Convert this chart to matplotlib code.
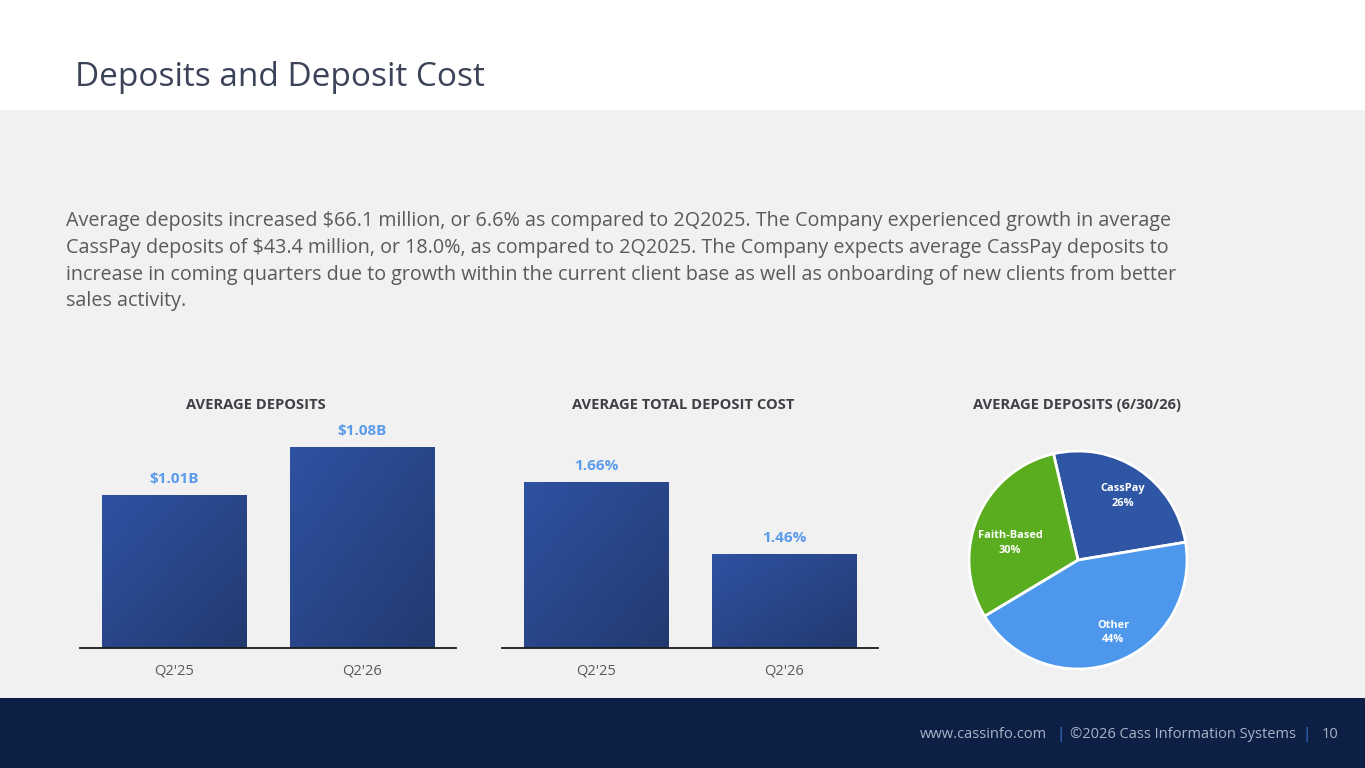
import matplotlib
matplotlib.use("Agg")
import matplotlib.pyplot as plt
import numpy as np
from matplotlib.patches import Rectangle
from matplotlib.colors import LinearSegmentedColormap

# ---------------- data ----------------
title = "Deposits and Deposit Cost"
paragraph_lines = [
    "Average deposits increased $66.1 million, or 6.6% as compared to 2Q2025. The Company experienced growth in average",
    "CassPay deposits of $43.4 million, or 18.0%, as compared to 2Q2025. The Company expects average CassPay deposits to",
    "increase in coming quarters due to growth within the current client base as well as onboarding of new clients from better",
    "sales activity.",
]
quarters = ["Q2'25", "Q2'26"]
avg_deposits = [1.01, 1.08]          # $B
avg_deposit_labels = ["$1.01B", "$1.08B"]
deposit_cost = [1.66, 1.46]          # %
deposit_cost_labels = ["1.66%", "1.46%"]
pie_names = ["CassPay", "Other", "Faith-Based"]
pie_shares = [26, 44, 30]
pie_colors = ["#2f56a5", "#4d97ec", "#5aad1f"]
chart_titles = ["AVERAGE DEPOSITS", "AVERAGE TOTAL DEPOSIT COST", "AVERAGE DEPOSITS (6/30/26)"]

W, H = 1365, 768
FONT = "Open Sans"

def fx(x):
    return x / W

def fy(y):
    return 1 - y / H

fig = plt.figure(figsize=(W / 100, H / 100), dpi=100)
fig.patch.set_facecolor("white")

# background bands
fig.patches.append(Rectangle((0, fy(698)), 1, (698 - 110) / H, transform=fig.transFigure,
                             facecolor="#f1f1f1", edgecolor="none", zorder=-10))
fig.patches.append(Rectangle((0, 0), 1, 70 / H, transform=fig.transFigure,
                             facecolor="#0e1f45", edgecolor="none", zorder=-10))

# title
fig.text(fx(75), fy(77), title, fontsize=24, color="#3c4257", family=FONT,
         ha="left", va="center")

# paragraph
for i, line in enumerate(paragraph_lines):
    fig.text(fx(66), fy(221 + i * 26.8), line, fontsize=14.25, color="#5a5a5a",
             family=FONT, ha="left", va="center")

cmap = LinearSegmentedColormap.from_list("g", ["#2e52a2", "#223a70"])

def bar_axes(rect_px, values, labels, ylim):
    l, r, t, b = rect_px
    ax = fig.add_axes([fx(l), fy(b), (r - l) / W, (b - t) / H])
    ax.set_facecolor("none")
    x = np.arange(len(values))
    bars = ax.bar(x, values, width=0.771, color="#284685", zorder=2)
    # diagonal gradient clipped to each bar (lighter top-left, darker bottom-right)
    gx, gy = np.meshgrid(np.linspace(0, 1, 64), np.linspace(0, 1, 64))
    grad = (gx + gy) / 2
    for p in bars:
        x0 = p.get_x()
        im = ax.imshow(grad, cmap=cmap, origin="upper",
                       extent=[x0, x0 + p.get_width(), ylim[0], p.get_height()],
                       aspect="auto", zorder=3, interpolation="bilinear")
        im.set_clip_path(p)
    ax.set_xlim(-0.5, len(values) - 0.5)
    ax.set_ylim(*ylim)
    for s in ["top", "right", "left"]:
        ax.spines[s].set_visible(False)
    ax.spines["bottom"].set_color("#1a1a1a")
    ax.spines["bottom"].set_linewidth(1.3)
    ax.spines["bottom"].set_zorder(5)
    ax.set_yticks([])
    ax.set_xticks(x)
    ax.set_xticklabels(quarters, fontsize=10.5, color="#595959", family=FONT)
    ax.tick_params(axis="x", length=0, pad=11)
    for xi, v, lab in zip(x, values, labels):
        ax.annotate(lab, (xi, v), xytext=(0, 16), textcoords="offset pixels",
                    ha="center", va="center", fontsize=11, fontweight="bold",
                    color="#5b9bec", family=FONT)
    return ax

bar_axes((80, 456, 420, 648), avg_deposits, avg_deposit_labels, (0.787, 1.1195))
bar_axes((502, 878, 420, 648), deposit_cost, deposit_cost_labels, (1.199, 1.832))

# chart titles
for cx, t in zip([256, 683, 1077], chart_titles):
    fig.text(fx(cx), fy(405), t, fontsize=10.6, fontweight="bold", color="#3f3f46",
             family=FONT, ha="center", va="center")

# pie
R = 109
cxp, cyp = 1078, 560
half = R * 1.2
axp = fig.add_axes([fx(cxp - half), fy(cyp + half), 2 * half / W, 2 * half / H])
wedges, texts = axp.pie(pie_shares, colors=pie_colors, startangle=103, counterclock=False,
                        wedgeprops=dict(edgecolor="white", linewidth=2),
                        labels=[f"{n}\n{s}%" for n, s in zip(pie_names, pie_shares)],
                        labeldistance=0.7,
                        textprops=dict(color="white", fontsize=7.9, fontweight="bold",
                                       family=FONT, ha="center", va="center",
                                       linespacing=1.45))
# label placement (angle in degrees, radius fraction) as laid out in the source slide
label_layout = [(55, 0.72), (-64, 0.74), (166, 0.64)]
for t, (ang, rr) in zip(texts, label_layout):
    a = np.deg2rad(ang)
    t.set_position((rr * np.cos(a), rr * np.sin(a)))
axp.set_xlim(-1.2, 1.2)
axp.set_ylim(-1.2, 1.2)
axp.set_aspect("equal")
axp.axis("off")

# footer
fy_f = fy(734)
fig.text(fx(920), fy_f, "www.cassinfo.com", fontsize=10.5, color="#a9b3c6", family=FONT,
         ha="left", va="center")
fig.text(fx(1060), fy_f, "|", fontsize=11, color="#3c7ad6", family=FONT, ha="center", va="center")
fig.text(fx(1070), fy_f, "\u00a92026 Cass Information Systems", fontsize=10.5, color="#a9b3c6",
         family=FONT, ha="left", va="center")
fig.text(fx(1307), fy_f, "|", fontsize=11, color="#3c7ad6", family=FONT, ha="center", va="center")
fig.text(fx(1322), fy_f, "10", fontsize=10.5, color="#a9b3c6", family=FONT, ha="left", va="center")

fig.savefig("out.png", dpi=100, facecolor=fig.get_facecolor())
